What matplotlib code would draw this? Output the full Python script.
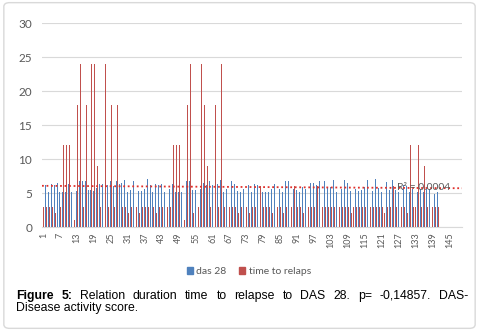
import numpy as np
import matplotlib
matplotlib.use("Agg")
from matplotlib import pyplot as plt
from matplotlib.patches import FancyBboxPatch, Patch

# Categories on the x axis (axis runs past the last data point)
categories = list(range(1, 150))
tickLabels = [str(c) for c in categories[::6]]

# das 28 values (blue)
das28 = [
    7.1, 6.2, 5.1, 6.3, 6.2, 6.4, 5.1, 5.1, 5.1, 6.3,
    5.1, 5.1, 5.3, 6.8, 6.8, 6.8, 5.5, 5.5, 5.3, 5.8,
    6.3, 6.3, 6.5, 6.2, 6.8, 6.0, 6.8, 6.3, 6.4, 6.9,
    5.1, 5.4, 6.8, 6.4, 5.3, 5.3, 5.6, 7.1, 6.2, 5.1,
    6.3, 6.2, 6.3, 5.1, 5.1, 5.6, 6.3, 5.1, 5.1, 5.1,
    6.8, 6.8, 6.8, 5.4, 5.4, 5.9, 5.6, 6.4, 6.2, 6.8,
    6.2, 5.4, 6.3, 6.9, 5.1, 5.6, 5.9, 6.8, 6.3, 5.3,
    5.1, 5.6, 7.1, 6.2, 5.1, 6.3, 6.2, 6.3, 5.1, 5.1,
    5.1, 5.6, 6.3, 5.1, 5.6, 5.1, 6.8, 6.8, 6.8, 5.6,
    5.4, 5.1, 5.9, 5.6, 6.3, 6.5, 6.5, 6.2, 6.8, 5.9,
    6.8, 5.9, 5.9, 6.9, 5.1, 5.4, 5.6, 6.9, 6.5, 5.3,
    5.1, 5.6, 5.3, 5.4, 5.9, 6.9, 5.1, 5.3, 7.1, 5.7,
    5.1, 6.9, 6.6, 5.4, 6.9, 5.4, 5.1, 5.6, 6.2, 6.0,
    5.1, 5.6, 5.6, 5.1, 5.6, 5.1, 5.6, 5.6, 5.1, 4.9,
    5.1,
]

# time to relaps values (red)
relaps = [
    3, 3, 3, 3, 2, 3, 3, 12, 12, 12,
    3, 1, 18, 24, 3, 18, 2, 24, 24, 9,
    3, 24, 24, 3, 18, 3, 18, 3, 3, 3,
    2, 3, 3, 3, 2, 3, 3, 3, 3, 3,
    2, 3, 3, 2, 3, 3, 12, 12, 12, 3,
    1, 18, 24, 2, 18, 3, 24, 18, 9, 3,
    18, 18, 3, 24, 3, 24, 3, 3, 3, 2,
    3, 3, 3, 2, 3, 3, 3, 6, 3, 3,
    3, 2, 3, 3, 3, 2, 3, 3, 3, 6,
    3, 3, 2, 3, 3, 3, 3, 6, 3, 3,
    3, 3, 3, 3, 6, 3, 3, 3, 3, 2,
    3, 3, 3, 3, 3, 6, 3, 3, 3, 3,
    3, 2, 3, 3, 6, 3, 2, 3, 3, 2,
    12, 3, 3, 12, 3, 9, 3, 3, 3, 3,
    3,
]

r2Label = "R² = 0.0004"
caption1 = "Relation duration time to relapse to DAS 28. p= -0,14857. DAS-"
caption2 = "Disease activity score."

blue = "#4F81BD"
red = "#C0504D"
grey = "#595959"
gridGrey = "#D9D9D9"

fig = plt.figure(figsize=(4.79, 3.31), dpi=100)
fig.patches.append(FancyBboxPatch((0.008, 0.008), 0.984, 0.984,
                                  boxstyle="round,pad=0,rounding_size=0.012",
                                  transform=fig.transFigure, fill=False,
                                  edgecolor=gridGrey, linewidth=1.0))

ax = fig.add_axes([42 / 479, 1 - 227 / 331, 420 / 479, 204 / 331])

x = np.arange(1, len(das28) + 1)
barW = 0.3
ax.bar(x - barW / 2, das28, width=barW, color=blue, linewidth=0, zorder=3)
ax.bar(x + barW / 2, relaps, width=barW, color=red, linewidth=0, zorder=3)

# Linear trendline of the das 28 series (drawn dotted red)
slope, intercept = np.polyfit(x, das28, 1)
tx = np.array([0.5, len(categories) + 0.5])
ax.plot(tx, slope * tx + intercept, color="#E0302B", linestyle=(0, (1, 1.5)),
        linewidth=1.3, zorder=4)
ax.text(126.5, slope * 127 + intercept, r2Label, fontsize=7.5, color=grey,
        va="center", ha="left", family="Lato", zorder=5)

ax.set_xlim(0.5, len(categories) + 0.5)
ax.set_ylim(0, 30)
ax.set_yticks(range(0, 31, 5))
ax.set_xticks(categories[::6])
ax.set_xticklabels(tickLabels, rotation=90, fontsize=6.5, color=grey, family="Lato")
for lbl in ax.get_yticklabels():
    lbl.set_fontsize(8.5)
    lbl.set_color(grey)
    lbl.set_family("Lato")
ax.tick_params(axis="both", length=0)
ax.tick_params(axis="y", pad=7)
ax.tick_params(axis="x", pad=4)
ax.grid(axis="y", color=gridGrey, linewidth=0.8, zorder=0)
for side in ["left", "right", "top"]:
    ax.spines[side].set_visible(False)
ax.spines["bottom"].set_color(gridGrey)
ax.spines["bottom"].set_linewidth(0.8)

handles = [Patch(color=blue, label="das 28"), Patch(color=red, label="time to relaps")]
fig.legend(handles=handles, loc="center", bbox_to_anchor=(249 / 479, 1 - 271.5 / 331),
           ncol=2, frameon=False, prop={"family": "Lato", "size": 7.5},
           labelcolor=grey, handlelength=0.6, handleheight=0.6, handletextpad=0.3,
           columnspacing=1.2)

# Justified caption, first line
words = [("Figure", "bold"), ("5:", "bold")] + [(w, "normal") for w in caption1.split()]
capSize = 8.8
texts = []
for w, weight in words:
    t = fig.text(0, 1 - 299 / 331, w, fontsize=capSize, weight=weight,
                 family="Liberation Sans", color="black", va="baseline", ha="left")
    texts.append(t)
fig.canvas.draw()
renderer = fig.canvas.get_renderer()
widths = [t.get_window_extent(renderer).width for t in texts]
left, right = 16.0, 468.3
gap = (right - left - sum(widths)) / (len(texts) - 1)
pos = left
for t, wd in zip(texts, widths):
    t.set_x(pos / 479)
    pos += wd + gap
fig.text(left / 479, 1 - 311.3 / 331, caption2, fontsize=capSize,
         family="Liberation Sans", color="black", va="baseline", ha="left")

fig.savefig("out.png", dpi=100)
